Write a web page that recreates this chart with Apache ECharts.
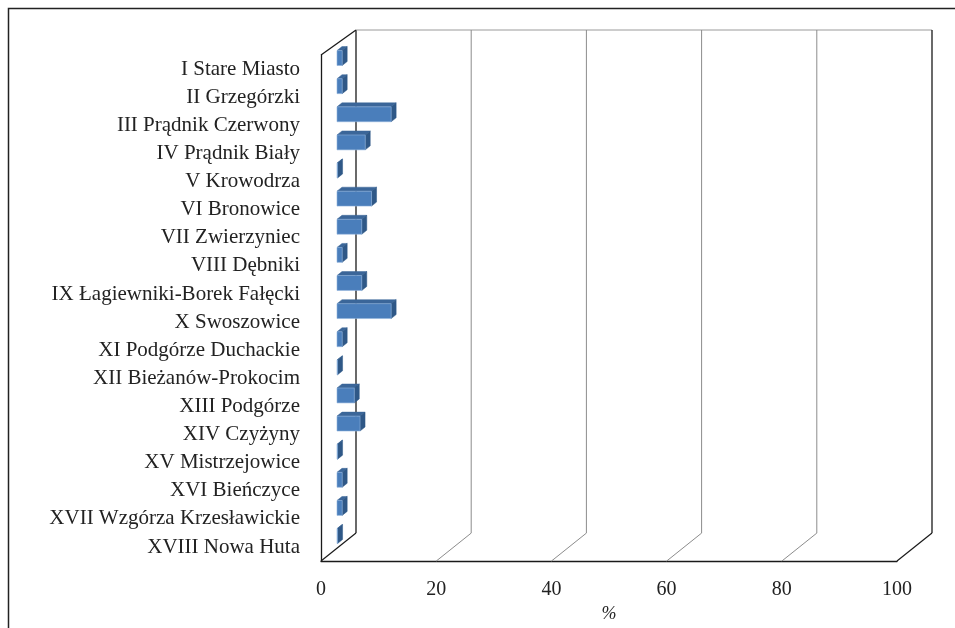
<!DOCTYPE html>
<html>
<head>
<meta charset="utf-8">
<script src="https://cdn.jsdelivr.net/npm/echarts@6/dist/echarts.min.js"></script>
<style>
  html, body { margin: 0; padding: 0; background: #fff; }
  #chart { width: 955px; height: 628px; }
</style>
</head>
<body>
<div id="chart"></div>
<script>
// Districts of Kraków (top to bottom)
const districts = [
  'I Stare Miasto',
  'II Grzegórzki',
  'III Prądnik Czerwony',
  'IV Prądnik Biały',
  'V Krowodrza',
  'VI Bronowice',
  'VII Zwierzyniec',
  'VIII Dębniki',
  'IX Łagiewniki-Borek Fałęcki',
  'X Swoszowice',
  'XI Podgórze Duchackie',
  'XII Bieżanów-Prokocim',
  'XIII Podgórze',
  'XIV Czyżyny',
  'XV Mistrzejowice',
  'XVI Bieńczyce',
  'XVII Wzgórza Krzesławickie',
  'XVIII Nowa Huta'
];

// Share per district, %
const shares = [0.9, 0.9, 9.4, 4.9, 0.1, 6.0, 4.3, 0.9, 4.3, 9.4, 0.9, 0.1, 3.0, 4.0, 0.1, 0.9, 0.9, 0.1];

// Value-axis ticks, %
const ticks = [0, 20, 40, 60, 80, 100];

// 3D box depth (floor diagonal) and bar placement inside the box
const BOX_DX = 35, BOX_DY = -28, BOX_TOP_DY = -25;
const BAR_DX = 16, BAR_DY = -11;
const BAR_SX = 5, BAR_SY = -4;

const SERIF = '"Liberation Serif", "DejaVu Serif", serif';

function renderFrame(params, api) {
  const cs = params.coordSys;
  const bottom = cs.y + cs.height;
  const t = api.value(0);
  const x = api.coord([t, 0])[0];
  const edge = (t === ticks[0] || t === ticks[ticks.length - 1]);
  const stroke = edge ? '#1a1a1a' : '#8c8c8c';
  const backTop = cs.y + BOX_TOP_DY;
  const children = [
    { type: 'line', shape: { x1: x, y1: bottom, x2: x + BOX_DX, y2: bottom + BOX_DY },
      style: { stroke: stroke, lineWidth: edge ? 1.3 : 1 } },
    { type: 'line', shape: { x1: x + BOX_DX, y1: bottom + BOX_DY, x2: x + BOX_DX, y2: backTop },
      style: { stroke: stroke, lineWidth: edge ? 1.3 : 1 } }
  ];
  if (t === ticks[0]) {
    const xEnd = api.coord([ticks[ticks.length - 1], 0])[0];
    children.push(
      { type: 'line', shape: { x1: x + BOX_DX, y1: backTop, x2: xEnd + BOX_DX, y2: backTop },
        style: { stroke: '#9a9a9a', lineWidth: 1 } },
      { type: 'line', shape: { x1: cs.x, y1: cs.y, x2: cs.x + BOX_DX, y2: backTop },
        style: { stroke: '#1a1a1a', lineWidth: 1.3 } }
    );
  }
  return { type: 'group', children: children };
}

function renderBar(params, api) {
  const v = api.value(0);
  const idx = api.value(1);
  const p0 = api.coord([0, idx]);
  const p1 = api.coord([v, idx]);
  const band = api.size([0, 1])[1];
  const h = band * 0.53;
  const x0 = p0[0] + BAR_DX;
  const x1 = p1[0] + BAR_DX;
  const yT = p0[1] + BAR_DY - h / 2;
  const yB = yT + h;
  return {
    type: 'group',
    children: [
      { type: 'polygon',
        shape: { points: [[x0, yT], [x1, yT], [x1 + BAR_SX, yT + BAR_SY], [x0 + BAR_SX, yT + BAR_SY]] },
        style: { fill: '#3b6699', stroke: '#3b6699', lineWidth: 0.5 } },
      { type: 'polygon',
        shape: { points: [[x1, yT], [x1 + BAR_SX, yT + BAR_SY], [x1 + BAR_SX, yB + BAR_SY], [x1, yB]] },
        style: { fill: '#2f5887', stroke: '#2f5887', lineWidth: 0.5 } },
      { type: 'rect',
        shape: { x: x0, y: yT, width: Math.max(x1 - x0, 0.01), height: h },
        style: { fill: '#4a7ebb', stroke: '#8fb2db', lineWidth: 0.6 } }
    ]
  };
}

const chart = echarts.init(document.getElementById('chart'), null, { renderer: 'canvas' });

chart.setOption({
  backgroundColor: '#ffffff',
  animation: false,
  graphic: [
    { type: 'rect', shape: { x: 8.5, y: 8.5, width: 1000, height: 700 },
      style: { fill: 'none', stroke: '#222', lineWidth: 1.5 }, silent: true }
  ],
  grid: { left: 321, top: 55, width: 576, height: 508, containLabel: false },
  xAxis: {
    type: 'value',
    min: 0, max: 100, interval: 20,
    axisLine: { show: true, lineStyle: { color: '#1a1a1a', width: 1.3 } },
    axisTick: { show: false },
    splitLine: { show: false },
    axisLabel: { fontFamily: SERIF, fontSize: 20, color: '#222', margin: 19 },
    name: '%',
    nameLocation: 'middle',
    nameGap: 42,
    nameTextStyle: { fontFamily: SERIF, fontSize: 18, color: '#222', fontStyle: 'italic' }
  },
  yAxis: {
    type: 'category',
    inverse: true,
    data: districts,
    axisLine: { show: true, lineStyle: { color: '#1a1a1a', width: 1.3 } },
    axisTick: { show: false },
    splitLine: { show: false },
    axisLabel: { fontFamily: SERIF, fontSize: 21, color: '#222', margin: 21, interval: 0 }
  },
  series: [
    {
      type: 'custom',
      renderItem: renderFrame,
      data: ticks.map(t => [t]),
      encode: { x: 0 },
      silent: true,
      z: 1
    },
    {
      type: 'custom',
      renderItem: renderBar,
      data: shares.map((v, i) => [v, i]),
      encode: { x: 0, y: 1 },
      z: 5
    }
  ]
});
</script>
</body>
</html>
